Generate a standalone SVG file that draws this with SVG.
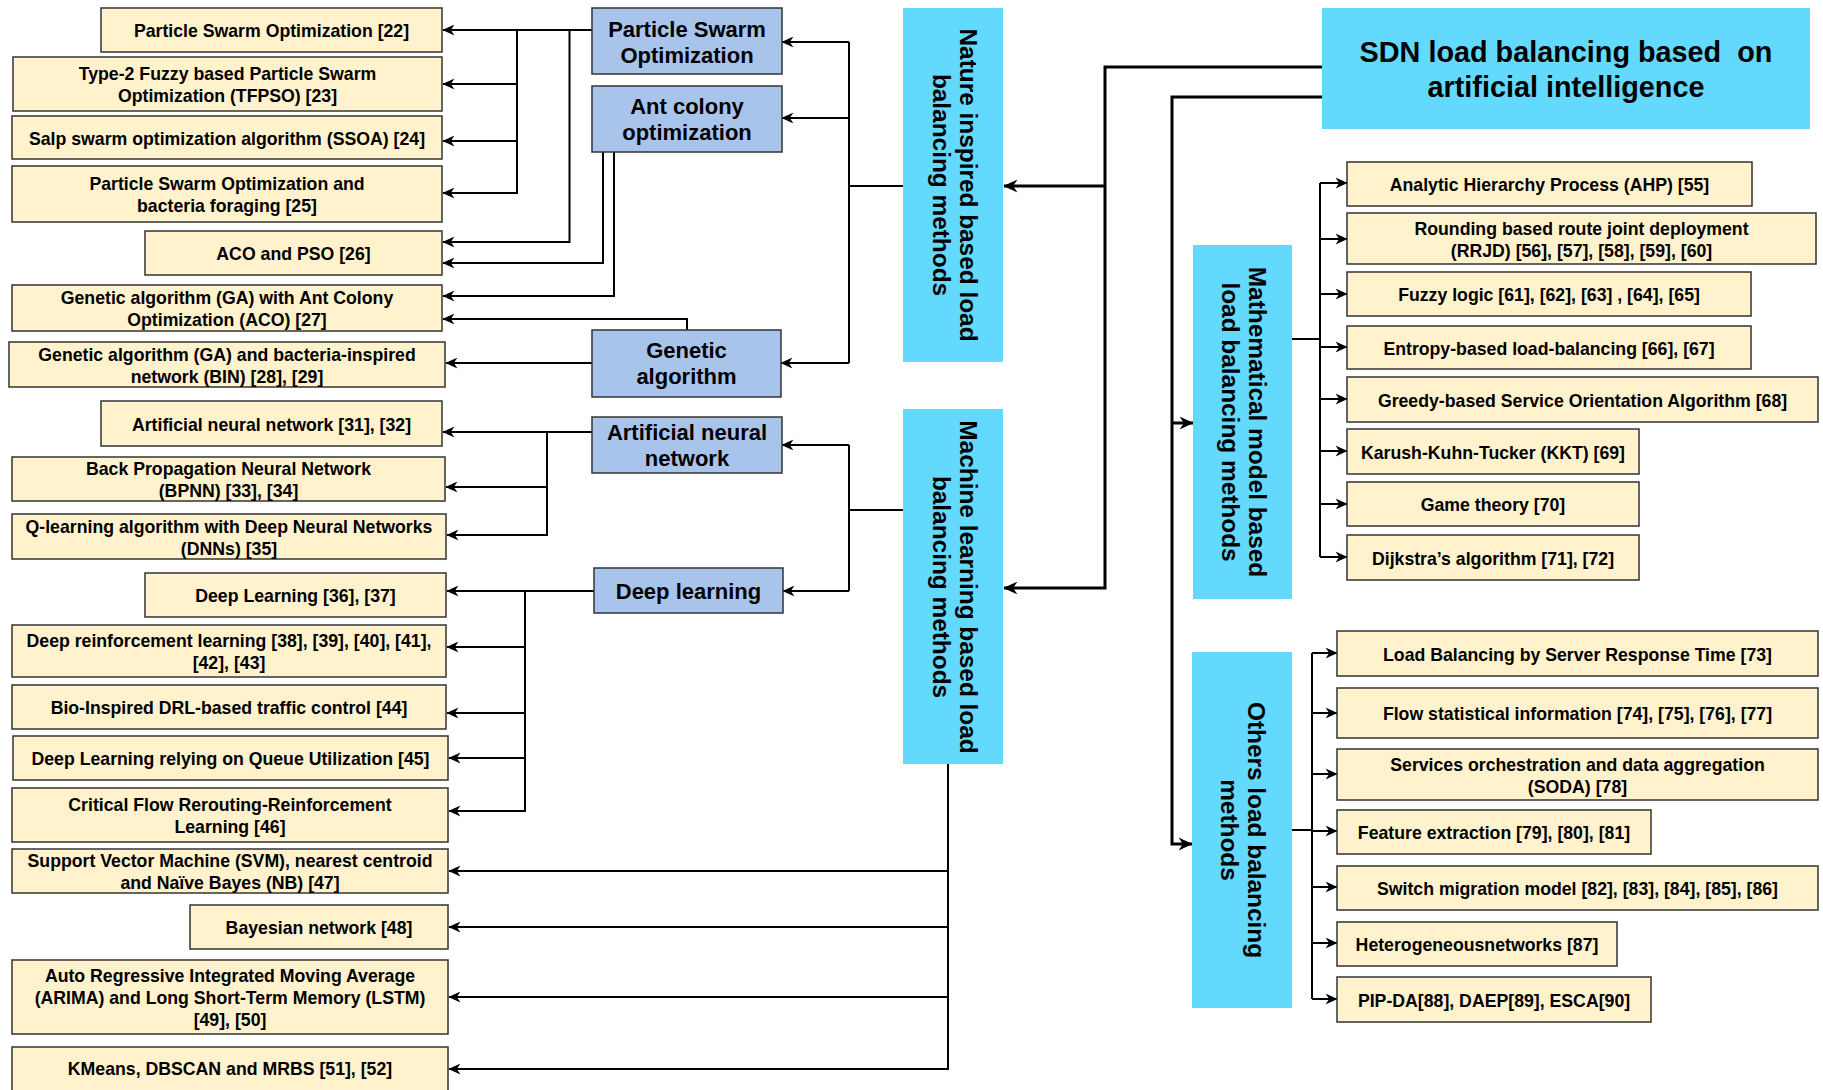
<svg xmlns="http://www.w3.org/2000/svg" width="1823" height="1090" viewBox="0 0 1823 1090">
<style>
.bg{fill:#ffffff}
.leaf{fill:#FFF2CC;stroke:#333333;stroke-width:1.5}
.sub{fill:#A9C4EB;stroke:#333333;stroke-width:1.5}
.cat{fill:#62D9FD;stroke:none}
text{font-family:"Liberation Sans",Arial,Helvetica,sans-serif;font-weight:bold;fill:#000;text-anchor:middle}
.t{font-size:17.7px}
.ts{font-size:22px}
.tc{font-size:24.4px}
.tt{font-size:28.8px;white-space:pre}
.ln{fill:none;stroke:#000;stroke-width:2}
.lk{fill:none;stroke:#000;stroke-width:3}
.a{marker-end:url(#arr)}
.ak{marker-end:url(#arrK)}
</style>
<defs>
<marker id="arr" viewBox="0 0 10 10" refX="9.5" refY="5" markerWidth="12" markerHeight="12" markerUnits="userSpaceOnUse" orient="auto">
<path d="M0,0.5 L10,5 L0,9.5 L3,5 Z" fill="#000"/>
</marker>
<marker id="arrK" viewBox="0 0 10 10" refX="9.5" refY="5" markerWidth="14" markerHeight="14" markerUnits="userSpaceOnUse" orient="auto">
<path d="M0,0.5 L10,5 L0,9.5 L3,5 Z" fill="#000"/>
</marker>
</defs>
<rect class="bg" x="0" y="0" width="1823" height="1090"/>

<g id="connectors">
<!-- SDN root -->
<path class="lk ak" d="M1322,67 H1105 V588 H1004"/>
<path class="lk ak" d="M1105,186 H1004"/>
<path class="lk ak" d="M1322,97 H1172 V844 H1192"/>
<path class="lk ak" d="M1172,423 H1193"/>
<!-- Nature -->
<path class="ln" d="M903,186 H849"/>
<path class="ln" d="M849,42 V363"/>
<path class="ln a" d="M849,42 H782"/>
<path class="ln a" d="M849,118 H782"/>
<path class="ln a" d="M849,363 H781"/>
<!-- PSO -->
<path class="ln a" d="M592,30 H443"/>
<path class="ln a" d="M517,30 V193 H443"/>
<path class="ln a" d="M517,84 H443"/>
<path class="ln a" d="M517,141 H443"/>
<path class="ln a" d="M569.5,30 V242 H443"/>
<!-- ACO -->
<path class="ln a" d="M603,152 V263 H443"/>
<path class="ln a" d="M614,152 V296 H443"/>
<!-- GA -->
<path class="ln a" d="M687,330 V319 H443"/>
<path class="ln a" d="M592,363 H446"/>
<!-- ML -->
<path class="ln" d="M903,510 H849"/>
<path class="ln" d="M849,445 V591"/>
<path class="ln a" d="M849,445 H782"/>
<path class="ln a" d="M849,591 H783"/>
<!-- ANN -->
<path class="ln a" d="M592,432 H443"/>
<path class="ln a" d="M547,432 V535 H447"/>
<path class="ln a" d="M547,487 H446"/>
<!-- DL -->
<path class="ln a" d="M594,591 H447"/>
<path class="ln a" d="M525,591 V811 H449"/>
<path class="ln a" d="M525,647 H447"/>
<path class="ln a" d="M525,713 H447"/>
<path class="ln a" d="M525,758 H449"/>
<!-- ML bottom -->
<path class="ln a" d="M948,764 V1069 H449"/>
<path class="ln a" d="M948,871 H449"/>
<path class="ln a" d="M948,927 H449"/>
<path class="ln a" d="M948,997 H449"/>
<!-- Math -->
<path class="ln" d="M1292,339 H1320"/>
<path class="ln" d="M1320,183 V557"/>
<path class="ln a" d="M1320,183 H1347"/>
<path class="ln a" d="M1320,239 H1347"/>
<path class="ln a" d="M1320,294 H1347"/>
<path class="ln a" d="M1320,347 H1347"/>
<path class="ln a" d="M1320,399 H1347"/>
<path class="ln a" d="M1320,451 H1347"/>
<path class="ln a" d="M1320,504 H1347"/>
<path class="ln a" d="M1320,557 H1347"/>
<!-- Others -->
<path class="ln" d="M1291,830 H1312"/>
<path class="ln" d="M1312,653 V999"/>
<path class="ln a" d="M1312,653 H1337"/>
<path class="ln a" d="M1312,713 H1337"/>
<path class="ln a" d="M1312,774 H1337"/>
<path class="ln a" d="M1312,831 H1337"/>
<path class="ln a" d="M1312,887 H1337"/>
<path class="ln a" d="M1312,943 H1337"/>
<path class="ln a" d="M1312,999 H1337"/>
</g>

<!-- Root -->
<g id="sdn">
<rect class="cat" x="1322" y="8" width="488" height="121"/>
<text class="tt" x="1566" y="62">SDN load balancing based  on</text>
<text class="tt" x="1566" y="97">artificial intelligence</text>
</g>

<!-- Categories -->
<g id="nature">
<rect class="cat" x="903" y="8" width="100" height="354"/>
<g transform="translate(953,185) rotate(90)"><text class="tc" y="-7">Nature inspired based load</text><text class="tc" y="20">balancing methods</text></g>
</g>
<g id="ml">
<rect class="cat" x="903" y="409" width="100" height="355"/>
<g transform="translate(953,587) rotate(90)"><text class="tc" y="-7">Machine learning based load</text><text class="tc" y="20">balancing methods</text></g>
</g>
<g id="math">
<rect class="cat" x="1193" y="245" width="99" height="354"/>
<g transform="translate(1242.5,422) rotate(90)"><text class="tc" y="-6">Mathematical model based</text><text class="tc" y="21">load balancing methods</text></g>
</g>
<g id="others">
<rect class="cat" x="1192" y="652" width="100" height="356"/>
<g transform="translate(1242,830) rotate(90)"><text class="tc" y="-6">Others load balancing</text><text class="tc" y="21">methods</text></g>
</g>

<!-- Sub nodes -->
<g id="n-pso"><rect class="sub" x="592" y="8" width="190" height="66"/><text class="ts" x="687" y="37">Particle Swarm</text><text class="ts" x="687" y="63">Optimization</text></g>
<g id="n-aco"><rect class="sub" x="592" y="86" width="190" height="66"/><text class="ts" x="687" y="114">Ant colony</text><text class="ts" x="687" y="140">optimization</text></g>
<g id="n-ga"><rect class="sub" x="592" y="330" width="189" height="67"/><text class="ts" x="686.5" y="358">Genetic</text><text class="ts" x="686.5" y="384">algorithm</text></g>
<g id="n-ann"><rect class="sub" x="592" y="417" width="190" height="56"/><text class="ts" x="687" y="440">Artificial neural</text><text class="ts" x="687" y="466">network</text></g>
<g id="n-dl"><rect class="sub" x="594" y="568" width="189" height="45"/><text class="ts" x="688.5" y="599">Deep learning</text></g>

<!-- Left leaves -->
<g id="l22"><rect class="leaf" x="101" y="8" width="341" height="44"/><text class="t" x="271.5" y="37">Particle Swarm Optimization [22]</text></g>
<g id="l23"><rect class="leaf" x="13" y="57" width="429" height="54"/><text class="t" x="227.5" y="80">Type-2 Fuzzy based Particle Swarm</text><text class="t" x="227.5" y="102">Optimization (TFPSO) [23]</text></g>
<g id="l24"><rect class="leaf" x="12" y="116" width="430" height="43"/><text class="t" x="227" y="144.5">Salp swarm optimization algorithm (SSOA) [24]</text></g>
<g id="l25"><rect class="leaf" x="12" y="166" width="430" height="56"/><text class="t" x="227" y="190">Particle Swarm Optimization and</text><text class="t" x="227" y="212">bacteria foraging [25]</text></g>
<g id="l26"><rect class="leaf" x="145" y="231" width="297" height="44"/><text class="t" x="293.5" y="260">ACO and PSO [26]</text></g>
<g id="l27"><rect class="leaf" x="12" y="285" width="430" height="46"/><text class="t" x="227" y="304">Genetic algorithm (GA) with Ant Colony</text><text class="t" x="227" y="326">Optimization (ACO) [27]</text></g>
<g id="l28"><rect class="leaf" x="9" y="342" width="436" height="45"/><text class="t" x="227" y="360.5">Genetic algorithm (GA) and bacteria-inspired</text><text class="t" x="227" y="382.5">network (BIN) [28], [29]</text></g>
<g id="l31"><rect class="leaf" x="101" y="401" width="341" height="45"/><text class="t" x="271.5" y="430.5">Artificial neural network [31], [32]</text></g>
<g id="l33"><rect class="leaf" x="12" y="457" width="433" height="44"/><text class="t" x="228.5" y="475">Back Propagation Neural Network</text><text class="t" x="228.5" y="497">(BPNN) [33], [34]</text></g>
<g id="l35"><rect class="leaf" x="12" y="514" width="434" height="45"/><text class="t" x="229" y="532.5">Q-learning algorithm with Deep Neural Networks</text><text class="t" x="229" y="554.5">(DNNs) [35]</text></g>
<g id="l36"><rect class="leaf" x="145" y="573" width="301" height="44"/><text class="t" x="295.5" y="602">Deep Learning [36], [37]</text></g>
<g id="l38"><rect class="leaf" x="12" y="625" width="434" height="52"/><text class="t" x="229" y="647">Deep reinforcement learning [38], [39], [40], [41],</text><text class="t" x="229" y="669">[42], [43]</text></g>
<g id="l44"><rect class="leaf" x="12" y="685" width="434" height="44"/><text class="t" x="229" y="714">Bio-Inspired DRL-based traffic control [44]</text></g>
<g id="l45"><rect class="leaf" x="13" y="736" width="435" height="44"/><text class="t" x="230.5" y="765">Deep Learning relying on Queue Utilization [45]</text></g>
<g id="l46"><rect class="leaf" x="12" y="788" width="436" height="54"/><text class="t" x="230" y="811">Critical Flow Rerouting-Reinforcement</text><text class="t" x="230" y="833">Learning [46]</text></g>
<g id="l47"><rect class="leaf" x="12" y="849" width="436" height="44"/><text class="t" x="230" y="867">Support Vector Machine (SVM), nearest centroid</text><text class="t" x="230" y="889">and Naïve Bayes (NB) [47]</text></g>
<g id="l48"><rect class="leaf" x="190" y="905" width="258" height="44"/><text class="t" x="319" y="934">Bayesian network [48]</text></g>
<g id="l49"><rect class="leaf" x="12" y="960" width="436" height="74"/><text class="t" x="230" y="982">Auto Regressive Integrated Moving Average</text><text class="t" x="230" y="1004">(ARIMA) and Long Short-Term Memory (LSTM)</text><text class="t" x="230" y="1026">[49], [50]</text></g>
<g id="l51"><rect class="leaf" x="12" y="1047" width="436" height="46"/><text class="t" x="230" y="1075">KMeans, DBSCAN and MRBS [51], [52]</text></g>

<!-- Math leaves -->
<g id="r55"><rect class="leaf" x="1347" y="162" width="405" height="44"/><text class="t" x="1549.5" y="191">Analytic Hierarchy Process (AHP) [55]</text></g>
<g id="r56"><rect class="leaf" x="1347" y="213" width="469" height="51"/><text class="t" x="1581.5" y="234.5">Rounding based route joint deployment</text><text class="t" x="1581.5" y="256.5">(RRJD) [56], [57], [58], [59], [60]</text></g>
<g id="r61"><rect class="leaf" x="1347" y="272" width="404" height="44"/><text class="t" x="1549" y="301">Fuzzy logic [61], [62], [63] , [64], [65]</text></g>
<g id="r66"><rect class="leaf" x="1347" y="326" width="404" height="43"/><text class="t" x="1549" y="354.5">Entropy-based load-balancing [66], [67]</text></g>
<g id="r68"><rect class="leaf" x="1347" y="377" width="471" height="45"/><text class="t" x="1582.5" y="406.5">Greedy-based Service Orientation Algorithm [68]</text></g>
<g id="r69"><rect class="leaf" x="1347" y="429" width="292" height="45"/><text class="t" x="1493" y="458.5">Karush-Kuhn-Tucker (KKT) [69]</text></g>
<g id="r70"><rect class="leaf" x="1347" y="482" width="292" height="44"/><text class="t" x="1493" y="511">Game theory [70]</text></g>
<g id="r71"><rect class="leaf" x="1347" y="535" width="292" height="45"/><text class="t" x="1493" y="564.5">Dijkstra’s algorithm [71], [72]</text></g>

<!-- Others leaves -->
<g id="o73"><rect class="leaf" x="1337" y="631" width="481" height="45"/><text class="t" x="1577.5" y="660.5">Load Balancing by Server Response Time [73]</text></g>
<g id="o74"><rect class="leaf" x="1337" y="688" width="481" height="50"/><text class="t" x="1577.5" y="720">Flow statistical information [74], [75], [76], [77]</text></g>
<g id="o78"><rect class="leaf" x="1337" y="749" width="481" height="51"/><text class="t" x="1577.5" y="770.5">Services orchestration and data aggregation</text><text class="t" x="1577.5" y="792.5">(SODA) [78]</text></g>
<g id="o79"><rect class="leaf" x="1337" y="810" width="314" height="44"/><text class="t" x="1494" y="839">Feature extraction [79], [80], [81]</text></g>
<g id="o82"><rect class="leaf" x="1337" y="866" width="481" height="44"/><text class="t" x="1577.5" y="895">Switch migration model [82], [83], [84], [85], [86]</text></g>
<g id="o87"><rect class="leaf" x="1337" y="922" width="280" height="44"/><text class="t" x="1477" y="951">Heterogeneousnetworks [87]</text></g>
<g id="o88"><rect class="leaf" x="1337" y="977" width="314" height="45"/><text class="t" x="1494" y="1006.5">PIP-DA[88], DAEP[89], ESCA[90]</text></g>
</svg>
